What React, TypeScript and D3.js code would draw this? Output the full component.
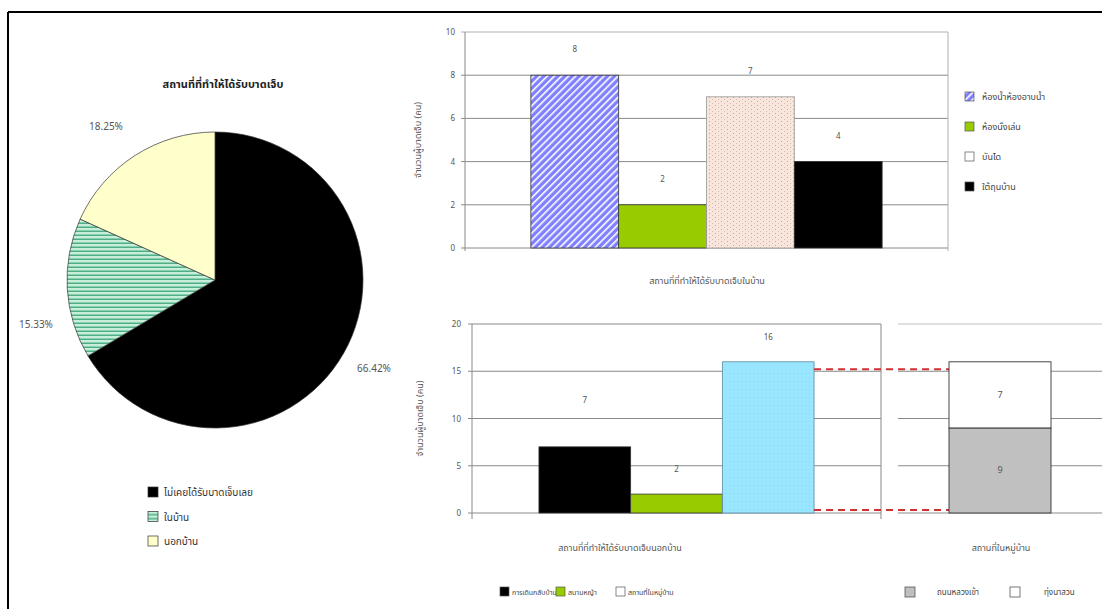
import React from "react";
import * as d3 from "d3";

const pieLabels = ["ไม่เคยได้รับบาดเจ็บเลย", "ในบ้าน", "นอกบ้าน"];
const pieValues = [66.42, 15.33, 18.25];
const pieText = ["66.42%", "15.33%", "18.25%"];

const inCats = ["ห้องน้ำห้องอาบน้ำ", "ห้องนั่งเล่น", "บันได", "ใต้ถุนบ้าน"];
const inValues = [8, 2, 7, 4];
const inTicks = [0, 2, 4, 6, 8, 10];

const outCats = ["การเดินกลับบ้าน", "สนามหญ้า", "สถานที่ในหมู่บ้าน"];
const outValues = [7, 2, 16];
const outTicks = [0, 5, 10, 15, 20];

const villageCats = ["ถนนหลวงเข้า", "ทุ่งนาสวน"];
const villageValues = [9, 7];

const FONT = "Tahoma, 'Noto Sans Thai', 'DejaVu Sans', sans-serif";
const GRID = "#8a8a8a";
const TXT = "#555";

export default function App() {
  // Pie
  const cx = 215, cy = 280, r = 148;
  const pieGen = d3.pie<number>().sort(null).value((d) => d);
  const arcs = pieGen(pieValues);
  const arcGen = d3.arc<d3.PieArcDatum<number>>().innerRadius(0).outerRadius(r);
  const pieFills = ["#000000", "url(#hstripe)", "#ffffcc"];
  const pieLabelPos = [
    [374, 372],
    [36, 328],
    [106, 130],
  ];

  // Top chart
  const tx0 = 465, tx1 = 948, ty0 = 32, ty1 = 248;
  const tX = d3.scaleBand<string>().domain(inCats).range([tx0, tx1]).paddingInner(0).paddingOuter(0.75);
  const tY = d3.scaleLinear().domain([0, 10]).range([ty1, ty0]);
  const inFills = ["url(#diag)", "#99cc00", "url(#dots)", "#000000"];

  // Bottom-left chart
  const bx0 = 472, bx1 = 881, by0 = 324, by1 = 513;
  const bX = d3.scaleBand<string>().domain(outCats).range([bx0, bx1]).paddingInner(0).paddingOuter(0.73);
  const bY = d3.scaleLinear().domain([0, 20]).range([by1, by0]);
  const outFills = ["#000000", "#99cc00", "#99e6ff"];

  // Bottom-right stacked chart
  const sx0 = 898, sx1 = 1102;
  const sX = d3.scaleBand<string>().domain(["v"]).range([sx0, sx1]).paddingOuter(0.5).paddingInner(0);
  const stack = d3.stack<any>().keys(villageCats)([
    Object.fromEntries(villageCats.map((k, i) => [k, villageValues[i]])),
  ]);
  const stackFills = ["#c0c0c0", "#ffffff"];

  const bar3Right = (bX(outCats[2]) as number) + bX.bandwidth();
  const stackLeft = sX("v") as number;

  return (
    <svg width={1102} height={609} style={{ position: "absolute", left: 0, top: 0, background: "#fff", fontFamily: FONT }}>
      <defs>
        <pattern id="hstripe" width="6" height="4" patternUnits="userSpaceOnUse">
          <rect width="6" height="4" fill="#c6efd9" />
          <rect y="2.5" width="6" height="1.5" fill="#4fae86" />
        </pattern>
        <pattern id="diag" width="5" height="5" patternUnits="userSpaceOnUse" patternTransform="rotate(45)">
          <rect width="5" height="5" fill="#8080ff" />
          <rect width="1.6" height="5" fill="#ffffff" />
        </pattern>
        <pattern id="dots" width="6" height="4" patternUnits="userSpaceOnUse">
          <rect width="6" height="4" fill="#f8e6dc" />
          <rect x="1" y="1" width="1" height="1" fill="#c9a89a" />
          <rect x="4" y="3" width="1" height="1" fill="#d8bcae" />
        </pattern>
        <pattern id="cyandots" width="4" height="4" patternUnits="userSpaceOnUse">
          <rect width="4" height="4" fill="#99e6ff" />
          <rect x="1" y="1" width="1" height="1" fill="#8fd8f0" />
        </pattern>
      </defs>

      {/* frame */}
      <line x1={8} y1={12} x2={1102} y2={12} stroke="#000" strokeWidth={2} />
      <line x1={8} y1={12} x2={8} y2={609} stroke="#000" strokeWidth={2} />

      {/* ===== Pie ===== */}
      <text x={223} y={88} textAnchor="middle" fontSize={11} fontWeight="bold" fill="#222">
        สถานที่ที่ทำให้ได้รับบาดเจ็บ
      </text>
      <g transform={`translate(${cx},${cy})`}>
        {arcs.map((a, i) => (
          <path key={i} d={arcGen(a) as string} fill={pieFills[i]} stroke="#333" strokeWidth={0.7} />
        ))}
      </g>
      {pieText.map((t, i) => (
        <text key={i} x={pieLabelPos[i][0]} y={pieLabelPos[i][1]} textAnchor="middle" fontSize={10} fill={TXT}>
          {t}
        </text>
      ))}
      {pieLabels.map((l, i) => (
        <g key={i} transform={`translate(148,${487 + i * 24.5})`}>
          <rect width={10} height={10} fill={pieFills[i]} stroke="#333" strokeWidth={0.7} />
          <text x={16} y={9} fontSize={10} fill="#333">
            {l}
          </text>
        </g>
      ))}

      {/* ===== Top chart ===== */}
      {inTicks.map((t) => (
        <g key={t}>
          <line x1={tx0 - 4} x2={tx1} y1={tY(t)} y2={tY(t)} stroke={t === 10 ? "#b0b0b0" : GRID} strokeWidth={1} />
          <text x={tx0 - 10} y={tY(t) + 3} textAnchor="end" fontSize={8} fill={TXT}>
            {t}
          </text>
        </g>
      ))}
      <line x1={tx0} x2={tx0} y1={ty0} y2={ty1 + 3} stroke={GRID} />
      <line x1={tx1} x2={tx1} y1={ty0} y2={ty1 + 3} stroke="#b0b0b0" />
      {inCats.map((c, i) => (
        <g key={c}>
          <rect
            x={tX(c)}
            y={tY(inValues[i])}
            width={tX.bandwidth()}
            height={tY(0) - tY(inValues[i])}
            fill={inFills[i]}
            stroke={i === 2 ? "#999" : "#333"}
            strokeWidth={0.8}
          />
          <text x={(tX(c) as number) + tX.bandwidth() / 2} y={tY(inValues[i]) - 23} textAnchor="middle" fontSize={8} fill={TXT}>
            {inValues[i]}
          </text>
        </g>
      ))}
      <text transform={`translate(421,${(ty0 + ty1) / 2}) rotate(-90)`} textAnchor="middle" fontSize={9} fill={TXT}>
        จำนวนผู้บาดเจ็บ (คน)
      </text>
      <text x={707} y={284} textAnchor="middle" fontSize={9} fill={TXT}>
        สถานที่ที่ทำให้ได้รับบาดเจ็บในบ้าน
      </text>
      {inCats.map((c, i) => (
        <g key={c} transform={`translate(965,${92 + i * 30})`}>
          <rect width={9} height={9} fill={inFills[i] === "url(#dots)" ? "#ffffff" : inFills[i]} stroke="#555" strokeWidth={0.7} />
          <text x={17} y={8} fontSize={9} fill="#444">
            {c}
          </text>
        </g>
      ))}

      {/* ===== Bottom-left chart ===== */}
      {outTicks.map((t) => (
        <g key={t}>
          <line x1={bx0 - 4} x2={bx1} y1={bY(t)} y2={bY(t)} stroke={GRID} strokeWidth={1} />
          <text x={bx0 - 11} y={bY(t) + 3} textAnchor="end" fontSize={8} fill={TXT}>
            {t}
          </text>
        </g>
      ))}
      <line x1={bx0} x2={bx0} y1={by0} y2={by1 + 6} stroke={GRID} />
      <line x1={bx1} x2={bx1} y1={by0} y2={by1 + 6} stroke={GRID} />
      {outCats.map((c, i) => (
        <g key={c}>
          <rect
            x={bX(c)}
            y={bY(outValues[i])}
            width={bX.bandwidth()}
            height={bY(0) - bY(outValues[i])}
            fill={i === 2 ? "url(#cyandots)" : outFills[i]}
            stroke={i === 2 ? "#5a8aa0" : "#333"}
            strokeWidth={0.8}
          />
          <text x={(bX(c) as number) + bX.bandwidth() / 2} y={bY(outValues[i]) - (i === 0 ? 44 : 22)} textAnchor="middle" fontSize={8} fill={TXT}>
            {outValues[i]}
          </text>
        </g>
      ))}
      <text transform={`translate(423,${(by0 + by1) / 2}) rotate(-90)`} textAnchor="middle" fontSize={9} fill={TXT}>
        จำนวนผู้บาดเจ็บ (คน)
      </text>
      <text x={620} y={551} textAnchor="middle" fontSize={9} fill={TXT}>
        สถานที่ที่ทำให้ได้รับบาดเจ็บนอกบ้าน
      </text>

      {/* ===== Bottom-right stacked chart ===== */}
      {outTicks.map((t) => (
        <line key={t} x1={sx0} x2={sx1} y1={bY(t)} y2={bY(t)} stroke={t === 20 ? "#c0c0c0" : GRID} strokeWidth={1} />
      ))}

      {/* red dashed connectors */}
      <line x1={bar3Right} x2={stackLeft} y1={bY(15) - 2} y2={bY(15) - 2} stroke="#d03030" strokeWidth={2} strokeDasharray="7,5" />
      <line x1={bar3Right} x2={stackLeft} y1={by1 - 3} y2={by1 - 3} stroke="#d03030" strokeWidth={2} strokeDasharray="7,5" />

      {stack.map((s, i) => (
        <g key={i}>
          <rect
            x={sX("v")}
            y={bY(s[0][1])}
            width={sX.bandwidth()}
            height={bY(s[0][0]) - bY(s[0][1])}
            fill={stackFills[i]}
            stroke="#333"
            strokeWidth={0.9}
          />
          <text x={(sX("v") as number) + sX.bandwidth() / 2} y={(bY(s[0][0]) + bY(s[0][1])) / 2 + 3} textAnchor="middle" fontSize={9} fill={TXT}>
            {villageValues[i]}
          </text>
        </g>
      ))}
      <text x={1001} y={551} textAnchor="middle" fontSize={9} fill={TXT}>
        สถานที่ในหมู่บ้าน
      </text>

      {/* bottom legends */}
      {outCats.map((c, i) => {
        const xs = [500, 556, 616];
        return (
          <g key={c} transform={`translate(${xs[i]},587)`}>
            <rect width={9} height={9} fill={i === 2 ? "#fff" : outFills[i]} stroke="#555" strokeWidth={0.7} />
            <text x={12} y={8} fontSize={7} fill="#444">
              {c}
            </text>
          </g>
        );
      })}
      {villageCats.map((c, i) => {
        const xs = [905, 1010];
        return (
          <g key={c} transform={`translate(${xs[i]},587)`}>
            <rect width={10} height={10} fill={stackFills[i]} stroke="#555" strokeWidth={0.8} />
            <text x={i === 0 ? 32 : 34} y={8} fontSize={8} fill="#444">
              {c}
            </text>
          </g>
        );
      })}
    </svg>
  );
}
